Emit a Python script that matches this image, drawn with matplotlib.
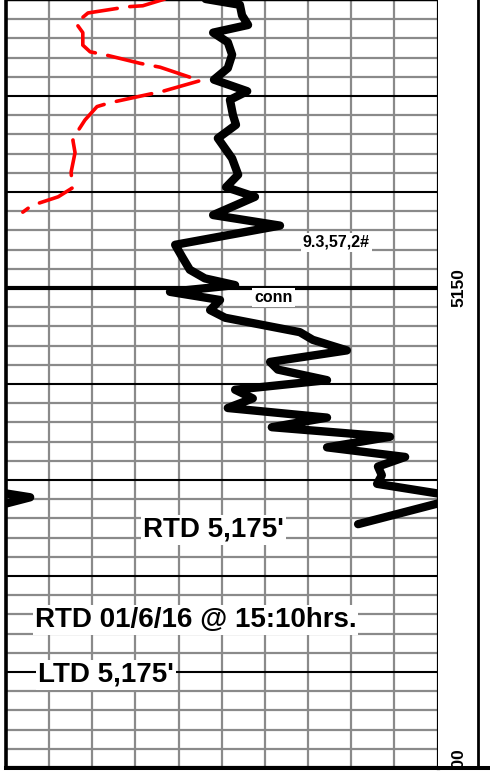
import numpy as np
import matplotlib
matplotlib.use('Agg')
import matplotlib.pyplot as plt

# black curve: drill rate, grid units (0-10) vs depth (ft)
rop_x = [4.50, 5.42, 5.47, 5.61, 4.80, 5.14, 5.24, 5.14, 4.82, 5.59,
         5.19, 5.26, 5.33, 4.91, 5.24, 5.38, 5.10, 5.77, 4.80, 6.35,
         3.92, 4.10, 4.26, 4.61, 5.31, 3.80, 4.96, 4.73, 5.08, 6.81,
         7.11, 7.90, 6.12, 6.30, 7.44, 5.31, 5.72, 5.14, 7.44, 6.16,
         8.90, 7.44, 9.25, 8.62, 8.71, 8.60, 10.56, 8.16]
rop_depth = [5119.8, 5120.5, 5121.6, 5122.6, 5123.4, 5124.4, 5125.7, 5127.1, 5128.3, 5129.5,
             5130.4, 5132.0, 5133.0, 5134.4, 5136.5, 5138.2, 5139.5, 5140.5, 5142.4, 5143.5,
             5145.5, 5146.9, 5148.1, 5149.0, 5149.7, 5150.4, 5151.25, 5152.3, 5153.1, 5154.6,
             5155.4, 5156.5, 5157.7, 5158.5, 5159.6, 5160.6, 5161.5, 5162.5, 5163.5, 5164.5,
             5165.5, 5166.6, 5167.6, 5168.6, 5169.5, 5170.4, 5171.8, 5174.6]

# red dashed curve: gas, grid units vs depth
gas_x = [3.68, 3.17, 2.83, 1.90, 1.62, 1.78, 1.78, 1.95, 2.29, 3.11,
         3.57, 4.50, 3.64, 2.41, 2.11, 1.83, 1.65, 1.55, 1.60, 1.51,
         1.53, 1.21, 0.60, 0.39]
gas_depth = [5119.9, 5120.6, 5120.7, 5121.35, 5122.4, 5123.4, 5124.7, 5125.4, 5125.7, 5126.6,
             5127.0, 5128.4, 5129.5, 5130.7, 5131.1, 5132.5, 5133.75, 5134.6, 5135.9, 5137.9,
             5139.6, 5140.5, 5141.4, 5142.1]

depth_top = 5120
depth_bottom = 5200
depth_labels = [5150, 5200]

# notes: text, left x (grid units), baseline depth, font size
notes = [("9.3,57,2#", 6.88, 5145.7, 11.5),
         ("conn", 5.75, 5151.5, 11.5),
         ("RTD 5,175'", 3.17, 5175.9, 20),
         ("RTD 01/6/16 @ 15:10hrs.", 0.67, 5185.3, 20),
         ("LTD 5,175'", 0.74, 5191.0, 20)]

fig = plt.figure(figsize=(4.9, 7.71), dpi=100)
W, H = 490, 771
ax = fig.add_axes([6 / W, 3 / H, (437.5 - 6) / W, 768 / H])
ax.set_xlim(0, 10)
ax.set_ylim(depth_bottom, depth_top)
ax.set_xticks([])
ax.set_yticks([])

# grid
for gx in range(1, 10):
    ax.axvline(gx, color='#8a8a8a', lw=1.6, zorder=1)
for d in range(depth_top, depth_bottom + 1, 2):
    if d % 50 == 0:
        ax.axhline(d, color='black', lw=3.0, zorder=2)
    elif d % 10 == 0:
        ax.axhline(d, color='black', lw=1.5, zorder=2)
    else:
        ax.axhline(d, color='#8a8a8a', lw=1.6, zorder=1)

# curves
ax.plot(rop_x, rop_depth, color='black', lw=6.0, solid_joinstyle='round',
        solid_capstyle='round', zorder=3)
# backup scale wrap for values past 10
ax.plot(np.array(rop_x) - 10, rop_depth, color='black', lw=6.0,
        solid_joinstyle='round', solid_capstyle='round', zorder=3)
ax.plot(gas_x, gas_depth, color='#ff0000', lw=2.6, dashes=(10, 3.5),
        dash_capstyle='round', zorder=3)

for txt, x, d, fs in notes:
    ax.text(x, d, txt, ha='left', va='baseline', fontsize=fs, fontweight='bold',
            family=['Liberation Sans', 'DejaVu Sans'], zorder=5,
            bbox=dict(facecolor='white', edgecolor='none', pad=1.5))

ax.spines['left'].set_linewidth(2.6)
ax.spines['right'].set_linewidth(2.3)
ax.spines['bottom'].set_linewidth(2.9)
ax.spines['top'].set_linewidth(1.0)

# depth track
ax2 = fig.add_axes([437.5 / W, 3 / H, (W - 437.5) / W, 768 / H])
ax2.set_xlim(0, 1)
ax2.set_ylim(depth_bottom, depth_top)
ax2.set_xticks([])
ax2.set_yticks([])
for s in ['left', 'right', 'top']:
    ax2.spines[s].set_visible(False)
ax2.spines['bottom'].set_linewidth(2.9)
ax2.axvline((478 - 437.5) / (W - 437.5), color='black', lw=2.0)
for d in depth_labels:
    ax2.text(0.41, d, str(d), rotation=90, ha='center', va='center', fontsize=12.5,
             fontweight='bold', family=['Liberation Sans', 'DejaVu Sans'], clip_on=True)

fig.savefig('out.png', dpi=100)
